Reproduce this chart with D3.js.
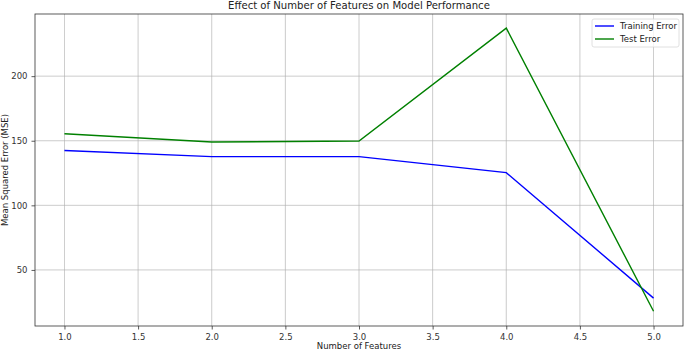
<!DOCTYPE html>
<html>
<head>
<meta charset="utf-8">
<script src="https://cdn.jsdelivr.net/npm/d3@7"></script>
<style>
  body { margin: 0; background: #fff; }
  svg { display: block; font-family: "DejaVu Sans", sans-serif; }
</style>
</head>
<body>
<div id="chart"></div>
<script>
// values
var features = [1, 2, 3, 4, 5];
var train_error = [142.4, 137.7, 137.7, 125.3, 28.2];
var test_error = [155.4, 149.0, 149.8, 237.2, 18.0];
var x_ticks = [1.0, 1.5, 2.0, 2.5, 3.0, 3.5, 4.0, 4.5, 5.0];
var y_ticks = [50, 100, 150, 200];

var series = [
    { name: 'Training Error', values: train_error, color: '#0000ff' },
    { name: 'Test Error', values: test_error, color: '#008000' },
];

var width = 685, height = 351;
var margin = { top: 14, right: 2, bottom: 25, left: 35 };
var fs = '8.5px';

var svg = d3.select('#chart').append('svg')
    .attr('width', width)
    .attr('height', height);

var x = d3.scaleLinear().domain([0.8, 5.2]).range([margin.left, width - margin.right]);
var y = d3.scaleLinear().domain([6.6, 248.1]).range([height - margin.bottom, margin.top]);

// grid
svg.append('g')
    .selectAll('line')
    .data(x_ticks)
    .enter().append('line')
        .attr('x1', d => x(d)).attr('x2', d => x(d))
        .attr('y1', y.range()[0]).attr('y2', y.range()[1])
        .attr('stroke', '#b0b0b0').attr('stroke-width', 0.8).attr('opacity', 0.8);

svg.append('g')
    .selectAll('line')
    .data(y_ticks)
    .enter().append('line')
        .attr('x1', x.range()[0]).attr('x2', x.range()[1])
        .attr('y1', d => y(d)).attr('y2', d => y(d))
        .attr('stroke', '#b0b0b0').attr('stroke-width', 0.8).attr('opacity', 0.8);

// axes
var xAxis = svg.append('g')
    .attr('transform', 'translate(0,' + (height - margin.bottom) + ')')
    .call(d3.axisBottom(x).tickValues(x_ticks).tickFormat(d3.format('.1f')).tickSize(3.5).tickPadding(4));

var yAxis = svg.append('g')
    .attr('transform', 'translate(' + margin.left + ',0)')
    .call(d3.axisLeft(y).tickValues(y_ticks).tickSize(3.5).tickPadding(4));

[xAxis, yAxis].forEach(function (g) {
    g.select('.domain').remove();
    g.selectAll('line').attr('stroke', '#333').attr('stroke-width', 0.8);
    g.selectAll('text').attr('fill', '#333').style('font-size', fs).style('font-family', '"DejaVu Sans", sans-serif');
});

// frame
svg.append('rect')
    .attr('x', x.range()[0]).attr('y', y.range()[1])
    .attr('width', x.range()[1] - x.range()[0])
    .attr('height', y.range()[0] - y.range()[1])
    .attr('fill', 'none').attr('stroke', '#333').attr('stroke-width', 0.8);

// lines
var line = d3.line()
    .x((d, i) => x(features[i]))
    .y(d => y(d));

svg.append('g')
    .selectAll('path')
    .data(series)
    .enter().append('path')
        .attr('d', d => line(d.values))
        .attr('fill', 'none')
        .attr('stroke', d => d.color)
        .attr('stroke-width', 1.4);

// title & labels
svg.append('text')
    .attr('x', (x.range()[0] + x.range()[1]) / 2)
    .attr('y', 9)
    .attr('text-anchor', 'middle')
    .attr('fill', '#222')
    .style('font-size', '10.1px')
    .text('Effect of Number of Features on Model Performance');

svg.append('text')
    .attr('x', (x.range()[0] + x.range()[1]) / 2)
    .attr('y', 349)
    .attr('text-anchor', 'middle')
    .attr('fill', '#222')
    .style('font-size', fs)
    .text('Number of Features');

svg.append('text')
    .attr('transform', 'translate(8,' + ((y.range()[0] + y.range()[1]) / 2) + ') rotate(-90)')
    .attr('text-anchor', 'middle')
    .attr('fill', '#222')
    .style('font-size', fs)
    .text('Mean Squared Error (MSE)');

// legend
var legend = svg.append('g').attr('transform', 'translate(592,19)');
legend.append('rect')
    .attr('width', 87).attr('height', 28).attr('rx', 2)
    .attr('fill', '#fff').attr('fill-opacity', 0.8)
    .attr('stroke', '#d8d8d8').attr('stroke-width', 0.8);

var items = legend.selectAll('g.item')
    .data(series)
    .enter().append('g')
        .attr('class', 'item')
        .attr('transform', (d, i) => 'translate(0,' + (7 + i * 13) + ')');

items.append('line')
    .attr('x1', 3).attr('x2', 22)
    .attr('stroke', d => d.color).attr('stroke-width', 1.4);

items.append('text')
    .attr('x', 28).attr('y', 3)
    .attr('fill', '#222')
    .style('font-size', fs)
    .text(d => d.name);
</script>
</body>
</html>
